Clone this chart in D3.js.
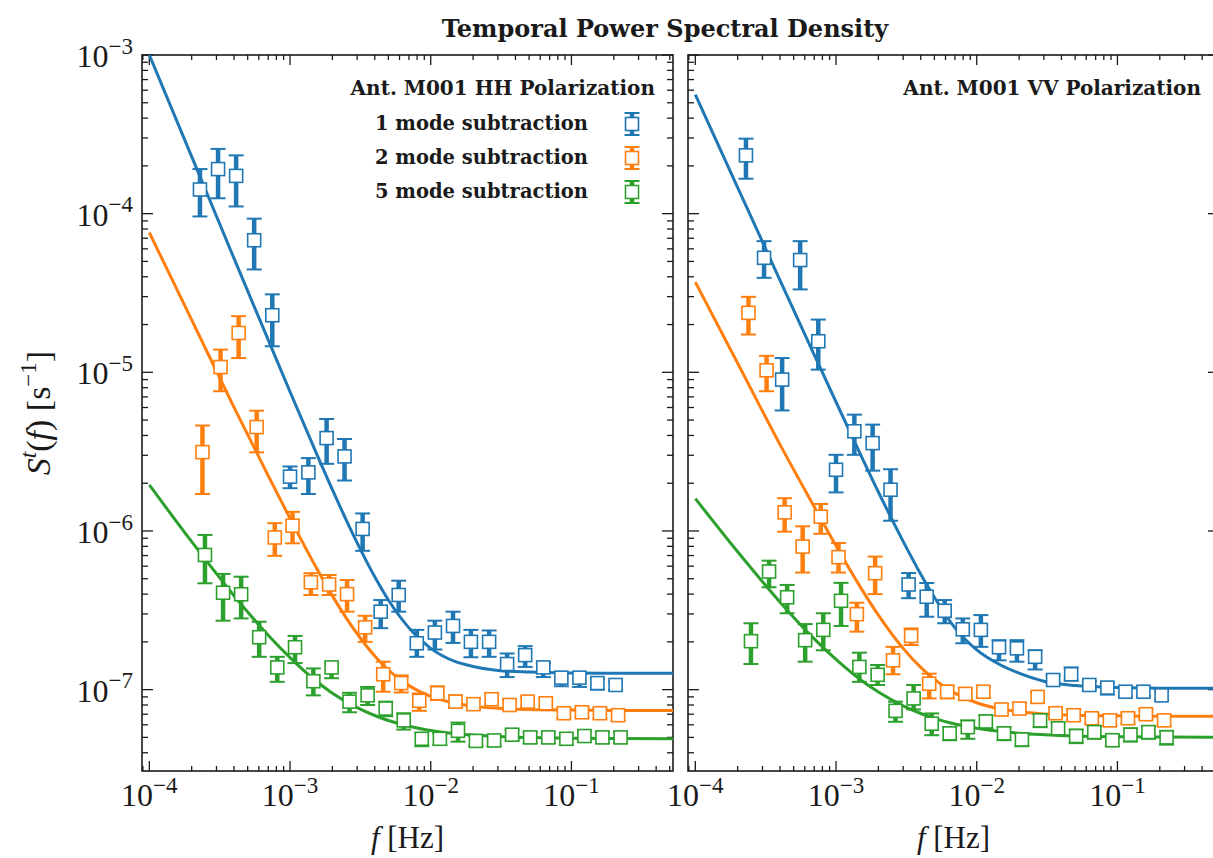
<!DOCTYPE html>
<html>
<head>
<meta charset="utf-8">
<script src="https://cdn.jsdelivr.net/npm/d3@7"></script>
<style>
  body { margin: 0; background: #fff; }
  svg text { fill: #1a1a1a; }
</style>
</head>
<body>
<svg id="chart" width="1213" height="858"></svg>
<script>
// ---- data ----
const chartTitle = "Temporal Power Spectral Density"
const panelTitles = ["Ant. M001 HH Polarization", "Ant. M001 VV Polarization"]
const modeLabels = ["1 mode subtraction", "2 mode subtraction", "5 mode subtraction"]

const xTickExps = [-4, -3, -2, -1]
const yTickExps = [-7, -6, -5, -4, -3]

// frequency bins [Hz]
const freq = [2.29e-4, 3.08e-4, 4.14e-4, 5.56e-4, 7.48e-4, 1.00e-3, 1.35e-3, 1.82e-3,
  2.44e-3, 3.28e-3, 4.41e-3, 5.92e-3, 7.96e-3, 1.07e-2, 1.44e-2, 1.93e-2, 2.60e-2,
  3.49e-2, 4.69e-2, 6.31e-2, 8.48e-2, 0.114, 0.153, 0.206]

// [value, lower, upper] per bin
const hh1 = [[1.42e-4,9.6e-5,1.91e-4],[1.91e-4,1.25e-4,2.56e-4],[1.73e-4,1.11e-4,2.33e-4],[6.8e-5,4.45e-5,9.3e-5],
  [2.29e-5,1.46e-5,3.1e-5],[2.2e-6,1.86e-6,2.55e-6],[2.34e-6,1.71e-6,2.88e-6],[3.85e-6,2.65e-6,5.08e-6],
  [2.95e-6,2.08e-6,3.8e-6],[1.03e-6,7.5e-7,1.29e-6],[3.1e-7,2.44e-7,3.67e-7],[3.95e-7,3.1e-7,4.86e-7],
  [1.96e-7,1.61e-7,2.38e-7],[2.29e-7,1.79e-7,2.72e-7],[2.52e-7,1.97e-7,3.1e-7],[2.0e-7,1.6e-7,2.38e-7],
  [2.0e-7,1.61e-7,2.36e-7],[1.45e-7,1.2e-7,1.69e-7],[1.65e-7,1.39e-7,1.88e-7],[1.38e-7,1.2e-7,1.47e-7],
  [1.19e-7,1.05e-7,1.26e-7],[1.19e-7,1.04e-7,1.27e-7],[1.1e-7,1.0e-7,1.18e-7],[1.07e-7,1.0e-7,1.12e-7]]
const hh2 = [[3.14e-6,1.71e-6,4.62e-6],[1.08e-5,7.6e-6,1.39e-5],[1.77e-5,1.23e-5,2.26e-5],[4.52e-6,3.13e-6,5.73e-6],
  [9.1e-7,6.97e-7,1.12e-6],[1.08e-6,8.36e-7,1.32e-6],[4.75e-7,3.95e-7,5.42e-7],[4.6e-7,3.95e-7,5.28e-7],
  [4.0e-7,3.1e-7,4.91e-7],[2.47e-7,2.0e-7,2.92e-7],[1.25e-7,9.7e-8,1.5e-7],[1.1e-7,9.6e-8,1.23e-7],
  [8.5e-8,7.35e-8,9.46e-8],[9.5e-8,8.6e-8,1.05e-7],[8.4e-8,7.7e-8,9.2e-8],[8.1e-8,7.5e-8,8.8e-8],
  [8.7e-8,8.1e-8,9.5e-8],[8.0e-8,7.4e-8,8.7e-8],[8.4e-8,7.8e-8,9.0e-8],[8.2e-8,7.6e-8,8.8e-8],
  [7.1e-8,6.6e-8,7.6e-8],[7.2e-8,6.7e-8,7.7e-8],[7.1e-8,6.6e-8,7.6e-8],[6.9e-8,6.4e-8,7.4e-8]]
const hh5 = [[7.06e-7,4.68e-7,9.44e-7],[4.08e-7,2.72e-7,5.36e-7],[3.99e-7,2.81e-7,5.15e-7],[2.14e-7,1.61e-7,2.68e-7],
  [1.38e-7,1.12e-7,1.61e-7],[1.85e-7,1.47e-7,2.18e-7],[1.13e-7,9.2e-8,1.36e-7],[1.38e-7,1.18e-7,1.47e-7],
  [8.4e-8,7.2e-8,9.55e-8],[9.2e-8,8.0e-8,1.04e-7],[7.6e-8,6.8e-8,8.4e-8],[6.4e-8,5.6e-8,7.1e-8],
  [4.9e-8,4.4e-8,5.33e-8],[4.9e-8,4.5e-8,5.3e-8],[5.5e-8,4.7e-8,6.2e-8],[4.75e-8,4.4e-8,5.1e-8],
  [4.78e-8,4.4e-8,5.1e-8],[5.2e-8,4.8e-8,5.6e-8],[5.0e-8,4.6e-8,5.4e-8],[5.0e-8,4.6e-8,5.4e-8],
  [4.9e-8,4.5e-8,5.3e-8],[5.1e-8,4.7e-8,5.5e-8],[5.0e-8,4.6e-8,5.4e-8],[5.0e-8,4.6e-8,5.4e-8]]

const vv1 = [[2.33e-4,1.66e-4,2.97e-4],[5.27e-5,3.94e-5,6.71e-5],[9.0e-6,5.75e-6,1.23e-5],[5.1e-5,3.33e-5,6.71e-5],
  [1.57e-5,1.04e-5,2.15e-5],[2.43e-6,1.75e-6,3.02e-6],[4.25e-6,3.02e-6,5.41e-6],[3.58e-6,2.4e-6,4.68e-6],
  [1.82e-6,1.16e-6,2.45e-6],[4.6e-7,3.77e-7,5.43e-7],[3.85e-7,2.88e-7,4.7e-7],[3.14e-7,2.62e-7,3.67e-7],
  [2.4e-7,1.96e-7,2.81e-7],[2.38e-7,1.86e-7,2.95e-7],[1.85e-7,1.53e-7,2.05e-7],[1.82e-7,1.5e-7,2.05e-7],
  [1.61e-7,1.34e-7,1.77e-7],[1.15e-7,1.1e-7,1.23e-7],[1.25e-7,1.14e-7,1.38e-7],[1.07e-7,1.0e-7,1.13e-7],
  [1.03e-7,9.3e-8,1.1e-7],[9.7e-8,9.1e-8,1.03e-7],[9.7e-8,9.1e-8,1.03e-7],[9.2e-8,8.6e-8,9.8e-8]]
const vv2 = [[2.37e-5,1.73e-5,2.99e-5],[1.03e-5,7.6e-6,1.27e-5],[1.31e-6,9.9e-7,1.61e-6],[7.97e-7,5.47e-7,1.07e-6],
  [1.23e-6,9.6e-7,1.48e-6],[6.84e-7,5.47e-7,8.4e-7],[2.99e-7,2.32e-7,3.53e-7],[5.42e-7,4.0e-7,6.9e-7],
  [1.53e-7,1.25e-7,1.86e-7],[2.18e-7,1.91e-7,2.43e-7],[1.09e-7,8.8e-8,1.26e-7],[9.7e-8,8.8e-8,1.06e-7],
  [9.4e-8,8.6e-8,1.02e-7],[9.7e-8,8.9e-8,1.05e-7],[7.5e-8,6.9e-8,8.1e-8],[7.6e-8,7.0e-8,8.2e-8],
  [9.0e-8,8.3e-8,9.6e-8],[7.1e-8,6.6e-8,7.7e-8],[6.9e-8,6.4e-8,7.5e-8],[6.6e-8,6.1e-8,7.1e-8],
  [6.4e-8,5.9e-8,6.9e-8],[6.6e-8,6.1e-8,7.1e-8],[7.0e-8,6.5e-8,7.5e-8],[6.4e-8,5.9e-8,6.9e-8]]
const vv5 = [[2.02e-7,1.45e-7,2.62e-7],[5.55e-7,4.42e-7,6.5e-7],[3.82e-7,3.03e-7,4.57e-7],[2.05e-7,1.5e-7,2.59e-7],
  [2.38e-7,1.77e-7,3.03e-7],[3.63e-7,2.52e-7,4.71e-7],[1.39e-7,1.12e-7,1.71e-7],[1.24e-7,1.07e-7,1.43e-7],
  [7.35e-8,6.27e-8,8.4e-8],[8.8e-8,7.5e-8,1.07e-7],[6.1e-8,5.16e-8,7.08e-8],[5.3e-8,4.8e-8,5.8e-8],
  [5.8e-8,4.9e-8,6.4e-8],[6.3e-8,5.7e-8,6.9e-8],[5.3e-8,4.8e-8,5.8e-8],[4.85e-8,4.4e-8,5.3e-8],
  [6.4e-8,5.8e-8,7.0e-8],[5.7e-8,5.2e-8,6.2e-8],[5.1e-8,4.6e-8,5.6e-8],[5.4e-8,4.9e-8,5.9e-8],
  [4.8e-8,4.4e-8,5.2e-8],[5.2e-8,4.7e-8,5.7e-8],[5.4e-8,4.9e-8,5.9e-8],[5.0e-8,4.5e-8,5.5e-8]]

// fitted model curves, read at these frequencies
const fitFreq = [1e-4, 2e-4, 4e-4, 7e-4, 1e-3, 1.5e-3, 2e-3, 3e-3, 4e-3, 5e-3, 7e-3,
  1e-2, 1.5e-2, 2e-2, 3e-2, 5e-2, 0.1, 0.2, 0.53]
const hhFit1 = [1.0e-3, 2.29e-4, 5.22e-5, 1.6e-5, 7.54e-6, 3.26e-6, 1.82e-6, 8.41e-7, 5.14e-7, 3.67e-7,
  2.45e-7, 1.82e-7, 1.5e-7, 1.4e-7, 1.32e-7, 1.29e-7, 1.274e-7, 1.27e-7, 1.27e-7]
const hhFit2 = [7.6e-5, 2.14e-5, 6.01e-6, 2.23e-6, 1.2e-6, 6.1e-7, 3.9e-7, 2.25e-7, 1.63e-7, 1.33e-7,
  1.06e-7, 9.06e-8, 8.2e-8, 7.87e-8, 7.62e-8, 7.49e-8, 7.43e-8, 7.4e-8, 7.4e-8]
const hhFit5 = [1.95e-6, 8.56e-7, 3.91e-7, 2.2e-7, 1.59e-7, 1.15e-7, 9.5e-8, 7.7e-8, 6.87e-8, 6.39e-8,
  5.88e-8, 5.53e-8, 5.28e-8, 5.17e-8, 5.06e-8, 4.99e-8, 4.94e-8, 4.92e-8, 4.91e-8]
const vvFit1 = [5.62e-4, 1.46e-4, 3.8e-5, 1.29e-5, 6.5e-6, 3.01e-6, 1.76e-6, 8.6e-7, 5.34e-7, 3.82e-7,
  2.45e-7, 1.78e-7, 1.42e-7, 1.27e-7, 1.13e-7, 1.06e-7, 1.03e-7, 1.022e-7, 1.02e-7]
const vvFit2 = [3.7e-5, 1.14e-5, 3.5e-6, 1.42e-6, 8.06e-7, 4.38e-7, 2.95e-7, 1.82e-7, 1.38e-7, 1.16e-7,
  9.5e-8, 8.27e-8, 7.54e-8, 7.25e-8, 7.03e-8, 6.9e-8, 6.84e-8, 6.8e-8, 6.8e-8]
const vvFit5 = [1.6e-6, 7.39e-7, 3.56e-7, 2.09e-7, 1.55e-7, 1.15e-7, 9.66e-8, 7.9e-8, 7.07e-8, 6.59e-8,
  6.07e-8, 5.71e-8, 5.44e-8, 5.31e-8, 5.2e-8, 5.11e-8, 5.05e-8, 5.02e-8, 5.01e-8]

// ---- layout / style ----
const colors = ["#1f77b4", "#ff7f0e", "#2ca02c"]
const dodge = [0, 2.5, 5]          // px shift between series, as in the figure
const serif = "'DejaVu Serif', serif"
const mathFont = "'Liberation Serif', serif"

const plotTop = 55, plotBottom = 771, panelW = 531
const panels = [
  {left: 142, title: panelTitles[0], series: [hh1, hh2, hh5], fits: [hhFit1, hhFit2, hhFit5], yLabels: true, legend: true},
  {left: 688, title: panelTitles[1], series: [vv1, vv2, vv5], fits: [vvFit1, vvFit2, vvFit5], yLabels: false, legend: false}
]

const svg = d3.select("#chart")

const y = d3.scaleLog().domain([3.07e-8, 1e-3]).range([plotBottom, plotTop])

function minorTicks(lo, hi) {
  let out = []
  for (let e = -9; e <= 1; e++) {
    for (let k = 2; k <= 9; k++) {
      let v = k * Math.pow(10, e)
      if (v > lo && v < hi) out.push(v)
    }
  }
  return out
}

// "10^e" mathtext label
function powLabel(sel, e, size) {
  sel.append("tspan").text("10")
  sel.append("tspan").attr("dy", -size * 0.42).attr("font-size", size * 0.72).text("\u2212" + Math.abs(e))
}

// title
svg.append("text")
  .attr("x", 665).attr("y", 37)
  .attr("text-anchor", "middle")
  .attr("font-family", serif).attr("font-weight", "bold").attr("font-size", 24)
  .text(chartTitle)

panels.forEach((p, pi) => {
  const right = p.left + panelW
  const x = d3.scaleLog().domain([8.87e-5, 0.527]).range([p.left, right])
  const g = svg.append("g")

  const clipId = "clip" + pi
  svg.append("clipPath").attr("id", clipId)
    .append("rect").attr("x", p.left).attr("y", plotTop).attr("width", panelW).attr("height", plotBottom - plotTop)

  // ticks on all four sides, pointing in
  const ticks = g.append("g").attr("stroke", "#1a1a1a").attr("stroke-width", 1.3)
  const xMaj = xTickExps.map(e => Math.pow(10, e)).filter(v => v > x.domain()[0] && v < x.domain()[1])
  const xMin = minorTicks(x.domain()[0], x.domain()[1])
  const yMaj = yTickExps.map(e => Math.pow(10, e))
  const yMin = minorTicks(y.domain()[0], y.domain()[1])

  xMaj.forEach(v => {
    ticks.append("line").attr("x1", x(v)).attr("x2", x(v)).attr("y1", plotBottom).attr("y2", plotBottom - 10)
    ticks.append("line").attr("x1", x(v)).attr("x2", x(v)).attr("y1", plotTop).attr("y2", plotTop + 10)
  })
  xMin.forEach(v => {
    ticks.append("line").attr("x1", x(v)).attr("x2", x(v)).attr("y1", plotBottom).attr("y2", plotBottom - 5)
    ticks.append("line").attr("x1", x(v)).attr("x2", x(v)).attr("y1", plotTop).attr("y2", plotTop + 5)
  })
  yMaj.forEach(v => {
    ticks.append("line").attr("x1", p.left).attr("x2", p.left + 11).attr("y1", y(v)).attr("y2", y(v))
    ticks.append("line").attr("x1", right).attr("x2", right - 11).attr("y1", y(v)).attr("y2", y(v))
  })
  yMin.forEach(v => {
    ticks.append("line").attr("x1", p.left).attr("x2", p.left + 6).attr("y1", y(v)).attr("y2", y(v))
    ticks.append("line").attr("x1", right).attr("x2", right - 6).attr("y1", y(v)).attr("y2", y(v))
  })

  // frame
  g.append("rect")
    .attr("x", p.left).attr("y", plotTop).attr("width", panelW).attr("height", plotBottom - plotTop)
    .attr("fill", "none").attr("stroke", "#1a1a1a").attr("stroke-width", 1.6)

  // x tick labels
  xMaj.forEach(v => {
    const t = g.append("text")
      .attr("x", x(v)).attr("y", 806)
      .attr("text-anchor", "middle")
      .attr("font-family", mathFont).attr("font-size", 32)
    powLabel(t, Math.round(Math.log10(v)), 32)
  })

  // y tick labels
  if (p.yLabels) {
    yMaj.forEach(v => {
      const t = g.append("text")
        .attr("x", p.left - 9).attr("y", y(v) + 12)
        .attr("text-anchor", "end")
        .attr("font-family", mathFont).attr("font-size", 32)
      powLabel(t, Math.round(Math.log10(v)), 32)
    })
  }

  // x axis label
  const xl = g.append("text")
    .attr("x", (p.left + right) / 2).attr("y", 848)
    .attr("text-anchor", "middle")
    .attr("font-family", mathFont).attr("font-size", 31)
  xl.append("tspan").attr("font-style", "italic").text("f")
  xl.append("tspan").text(" [Hz]")

  // fitted curves
  const line = d3.line()
    .x(d => x(d[0]))
    .y(d => y(d[1]))
    .curve(d3.curveMonotoneX)
  p.fits.forEach((fit, si) => {
    g.append("path")
      .datum(fitFreq.map((f, i) => [f, fit[i]]))
      .attr("clip-path", `url(#${clipId})`)
      .attr("d", line)
      .attr("fill", "none")
      .attr("stroke", colors[si])
      .attr("stroke-width", 3)
  })

  // measured points with error bars
  p.series.forEach((ser, si) => {
    const sg = g.append("g")
    ser.forEach((d, i) => {
      const cx = x(freq[i]) + dodge[si]
      sg.append("line").attr("x1", cx).attr("x2", cx).attr("y1", y(d[1])).attr("y2", y(d[2]))
        .attr("stroke", colors[si]).attr("stroke-width", 4.5)
      ;[d[1], d[2]].forEach(v => {
        sg.append("line").attr("x1", cx - 7.5).attr("x2", cx + 7.5).attr("y1", y(v)).attr("y2", y(v))
          .attr("stroke", colors[si]).attr("stroke-width", 2)
      })
      sg.append("rect").attr("x", cx - 6.5).attr("y", y(d[0]) - 6.5).attr("width", 13).attr("height", 13)
        .attr("fill", "white").attr("stroke", colors[si]).attr("stroke-width", 1.6)
    })
  })

  // panel title
  g.append("text")
    .attr("x", right - 18).attr("y", 95)
    .attr("text-anchor", "end")
    .attr("font-family", serif).attr("font-weight", "bold").attr("font-size", 20)
    .text(p.title)

  // legend
  if (p.legend) {
    modeLabels.forEach((lab, si) => {
      const by = 130 + si * 34
      g.append("text")
        .attr("x", right - 85).attr("y", by)
        .attr("text-anchor", "end")
        .attr("font-family", serif).attr("font-weight", "bold").attr("font-size", 19.5)
        .text(lab)
      const mx = right - 41, my = by - 6
      g.append("line").attr("x1", mx).attr("x2", mx).attr("y1", my - 11).attr("y2", my + 11)
        .attr("stroke", colors[si]).attr("stroke-width", 4.5)
      ;[my - 11, my + 11].forEach(v => {
        g.append("line").attr("x1", mx - 7.5).attr("x2", mx + 7.5).attr("y1", v).attr("y2", v)
          .attr("stroke", colors[si]).attr("stroke-width", 2)
      })
      g.append("rect").attr("x", mx - 6.5).attr("y", my - 6.5).attr("width", 13).attr("height", 13)
        .attr("fill", "white").attr("stroke", colors[si]).attr("stroke-width", 1.6)
    })
  }
})

// y axis label
const yl = svg.append("text")
  .attr("transform", `translate(50, ${(plotTop + plotBottom) / 2}) rotate(-90)`)
  .attr("text-anchor", "middle")
  .attr("font-family", mathFont).attr("font-size", 34)
yl.append("tspan").attr("font-style", "italic").text("S")
yl.append("tspan").attr("font-style", "italic").attr("font-size", 23).attr("dy", -14).text("t")
yl.append("tspan").attr("dy", 14).text("(")
yl.append("tspan").attr("font-style", "italic").text("f")
yl.append("tspan").text(") [s")
yl.append("tspan").attr("font-size", 23).attr("dy", -14).text("\u22121")
yl.append("tspan").attr("dy", 14).text("]")
</script>
</body>
</html>
